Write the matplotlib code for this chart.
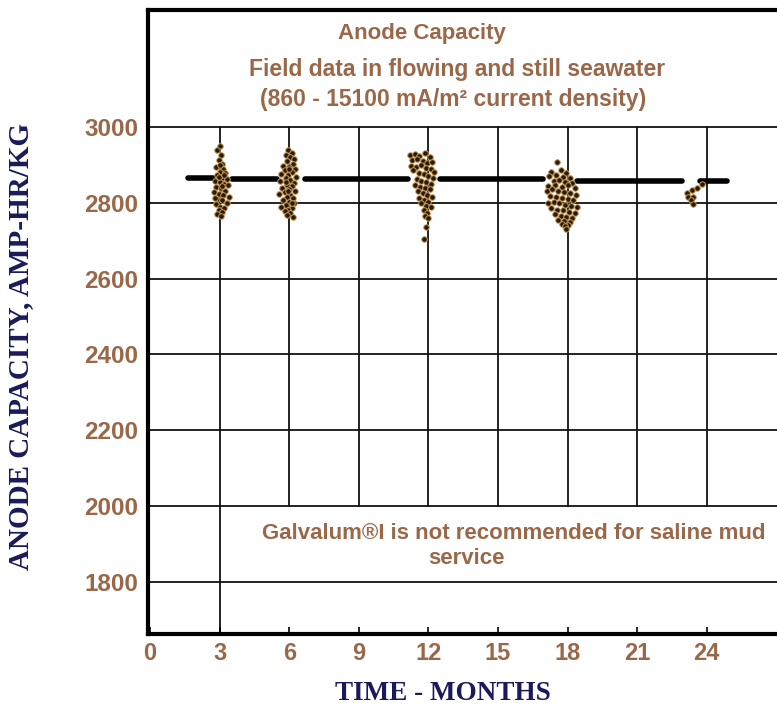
import matplotlib.pyplot as plt

# Данные: средние значения (горизонтальные отрезки) и точки полевых измерений
seg_start = [1.64, 3.53, 6.68, 12.5, 18.4, 23.7]
seg_end = [2.72, 5.47, 11.12, 16.94, 22.93, 24.87]
seg_val = [2866, 2862, 2862, 2862, 2856, 2856]

m3_x = [3.0, 2.9, 3.05, 2.95, 3.1, 2.85, 3.15, 3.0, 3.25, 2.9, 3.1, 3.3, 2.8, 3.0, 3.2, 3.35, 2.85, 3.05, 3.25,
        2.75, 2.95, 3.15, 3.4, 2.9, 3.1, 3.3, 2.85, 3.0, 3.2, 2.95, 3.1, 2.9, 3.05, 3.0, 2.95, 3.2, 2.8, 3.1]
m3_y = [2950, 2938, 2925, 2912, 2903, 2895, 2890, 2882, 2878, 2872, 2866, 2862, 2858, 2855, 2850, 2846, 2842, 2838,
        2832, 2828, 2824, 2820, 2816, 2810, 2806, 2800, 2796, 2790, 2786, 2780, 2776, 2770, 2765, 2900, 2868, 2872,
        2812, 2845]

m6_x = [5.95, 6.1, 5.85, 6.05, 6.2, 5.9, 6.15, 5.75, 6.0, 6.25, 5.8, 6.1, 5.65, 5.95, 6.3, 5.85, 6.05, 5.6, 6.2,
        5.9, 6.1, 5.7, 6.0, 6.25, 5.8, 5.55, 6.05, 5.9, 6.15, 5.75, 6.0, 6.2, 5.85, 5.65, 6.1, 5.95, 5.8, 6.05, 5.9,
        6.15, 5.85, 6.0, 5.95, 6.1]
m6_y = [2940, 2932, 2925, 2920, 2915, 2910, 2902, 2898, 2895, 2888, 2885, 2880, 2875, 2872, 2868, 2865, 2860, 2856,
        2852, 2848, 2845, 2840, 2836, 2832, 2828, 2824, 2820, 2815, 2812, 2808, 2803, 2798, 2795, 2790, 2786, 2782,
        2778, 2772, 2768, 2762, 2855, 2890, 2830, 2800]

m12_x = [11.2, 11.4, 11.6, 11.85, 12.05, 11.3, 11.5, 11.75, 11.95, 12.15, 11.25, 11.45, 11.7, 11.9, 12.1, 12.25,
         11.35, 11.6, 11.8, 12.0, 12.2, 11.5, 11.7, 11.9, 12.1, 11.4, 11.65, 11.85, 12.05, 11.55, 11.75, 11.95, 12.15,
         11.6, 11.8, 12.0, 11.7, 11.9, 12.1, 11.8, 11.95, 11.85, 12.0, 11.9, 11.8]
m12_y = [2925, 2928, 2922, 2930, 2920, 2912, 2915, 2910, 2905, 2908, 2898, 2895, 2900, 2892, 2888, 2880, 2885, 2878,
         2875, 2870, 2865, 2862, 2858, 2855, 2850, 2848, 2842, 2838, 2835, 2830, 2825, 2820, 2815, 2812, 2808, 2802,
         2798, 2792, 2788, 2780, 2772, 2766, 2760, 2735, 2705]

m18_x = [17.55, 17.3, 17.7, 17.95, 17.2, 17.5, 17.8, 18.1, 17.4, 17.65, 17.9, 18.2, 17.15, 17.45, 17.75, 18.0, 18.3,
         17.1, 17.35, 17.6, 17.85, 18.1, 18.35, 17.25, 17.5, 17.75, 18.0, 18.25, 17.15, 17.4, 17.65, 17.9, 18.15, 18.4,
         17.3, 17.55, 17.8, 18.05, 18.3, 17.45, 17.7, 17.95, 18.2, 17.6, 17.85, 18.1, 17.75, 18.0, 17.9, 17.95]
m18_y = [2908, 2882, 2885, 2878, 2870, 2872, 2868, 2865, 2858, 2860, 2855, 2852, 2845, 2848, 2842, 2846, 2838, 2832,
         2835, 2830, 2828, 2825, 2820, 2818, 2815, 2812, 2810, 2806, 2800, 2802, 2798, 2795, 2792, 2788, 2785, 2782,
         2780, 2776, 2772, 2770, 2766, 2762, 2760, 2755, 2752, 2750, 2745, 2742, 2738, 2732]

m24_x = [23.15, 23.36, 23.58, 23.79, 23.19, 23.4, 23.32, 23.4]
m24_y = [2826, 2834, 2839, 2850, 2815, 2815, 2807, 2797]

x_ticks = [0, 3, 6, 9, 12, 15, 18, 21, 24]
y_ticks = [1800, 2000, 2200, 2400, 2600, 2800, 3000]

brown = '#9a6848'
navy = '#1a1a5a'
sans = ['Liberation Sans', 'DejaVu Sans']
serif = ['Liberation Serif', 'DejaVu Serif']

fig = plt.figure(figsize=(7.77, 7.07), dpi=100)
ax = fig.add_axes([0.1905, 0.1033, 0.8095, 0.883])
ax.set_xlim(-0.09, 27.03)
ax.set_ylim(1663, 3309)

# сетка: горизонтальные линии по всей ширине, вертикальные от 2000 до 3000
for y in y_ticks:
    ax.axhline(y, color='#111111', lw=1.3, zorder=1)
for x in x_ticks[2:]:
    ax.plot([x, x], [2000, 3000], color='#111111', lw=1.3, zorder=1)
ax.plot([3, 3], [1663, 3000], color='#111111', lw=1.3, zorder=1)

for x0, x1, v in zip(seg_start, seg_end, seg_val):
    ax.plot([x0, x1], [v, v], color='black', lw=4, solid_capstyle='round', zorder=3)

for xs, ys in [(m3_x, m3_y), (m6_x, m6_y), (m12_x, m12_y), (m18_x, m18_y), (m24_x, m24_y)]:
    ax.scatter(xs, ys, s=16, color='#2a1a08', edgecolors='#c89a5a', linewidths=0.7, zorder=4)

for side in ['left', 'bottom', 'top']:
    ax.spines[side].set_linewidth(3)
    ax.spines[side].set_color('black')
ax.spines['right'].set_visible(False)

ax.set_xticks(x_ticks)
ax.set_yticks(y_ticks)
ax.tick_params(axis='x', direction='in', length=5, width=1.2, pad=6, labelsize=17, labelcolor=brown)
ax.tick_params(axis='y', length=0, pad=7, labelsize=17.5, labelcolor=brown)
for lab in ax.get_xticklabels() + ax.get_yticklabels():
    lab.set_fontfamily(sans)
    lab.set_fontweight('bold')

ax.set_xlabel('TIME - MONTHS', fontsize=19.5, fontweight='bold', color=navy, family=serif)
ax.set_ylabel('ANODE CAPACITY, AMP-HR/KG', fontsize=21, fontweight='bold', color=navy, family=serif)
ax.xaxis.set_label_coords((443 - 148) / 629, -0.075)
ax.yaxis.set_label_coords((34 - 148) / 629, (707 - 73 - 347) / 624)

ax.text(11.74, 3245, 'Anode Capacity', ha='center', va='center', fontsize=16, fontweight='bold', color=brown, family=sans)
ax.text(13.25, 3152, 'Field data in flowing and still seawater', ha='center', va='center', fontsize=16.5,
        fontweight='bold', color=brown, family=sans)
ax.text(13.05, 3072, '(860 - 15100 mA/m² current density)', ha='center', va='center', fontsize=16.5,
        fontweight='bold', color=brown, family=sans)

ax.text(4.83, 1929, 'Galvalum®I is not recommended for saline mud', ha='left', va='center', fontsize=16,
        fontweight='bold', color=brown, family=sans)
ax.text(13.66, 1862, 'service', ha='center', va='center', fontsize=16, fontweight='bold', color=brown, family=sans)

plt.savefig('out.png', dpi=100)
